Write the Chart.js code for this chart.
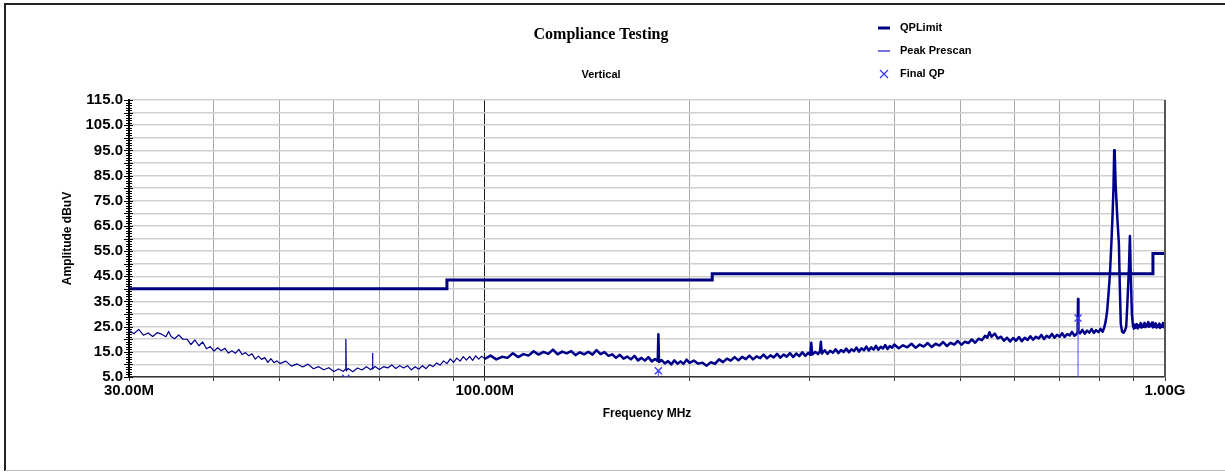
<!DOCTYPE html>
<html>
<head>
<meta charset="utf-8">
<title>Compliance Testing</title>
<script src="https://cdn.jsdelivr.net/npm/chart.js@4.4.0/dist/chart.umd.min.js"></script>
<style>
  html, body { margin: 0; padding: 0; background: #fff; }
  canvas { display: block; }
</style>
</head>
<body>
<canvas id="emcChart" width="1225" height="472"></canvas>
<script>
// all frequencies in MHz, amplitudes in dBuV
const qpLimit = [[30, 40.0], [88, 43.5], [216, 46.0], [960, 54.0], [1000, 54.0]];

// prescan trace below 100 MHz (thin part)
const prescanLow = [
    [30, 23.6], [30.5, 22.2], [31, 23.9], [31.5, 21.6], [32, 22.5], [32.5, 21.1], [33, 22.6], [33.5, 22.0],
    [34, 21.0], [34.3, 23.1], [34.6, 21.1], [35, 20.2], [35.5, 21.7], [36, 20.0], [36.5, 20.0], [37, 17.9],
    [37.5, 19.7], [38, 17.4], [38.5, 18.9], [39, 16.2], [39.5, 17.1], [40, 15.3], [40.5, 16.6], [41, 15.4],
    [41.5, 16.4], [42, 14.5], [42.5, 15.4], [43, 14.4], [43.5, 16.0], [44, 13.9], [44.5, 14.7], [45, 13.4],
    [45.5, 14.2], [46, 12.1], [46.5, 13.3], [47, 12.0], [47.5, 12.7], [48, 10.8], [48.5, 12.3], [49, 10.7],
    [49.5, 11.4], [50, 10.3], [51, 11.3], [52, 9.3], [53, 10.2], [54, 9.0], [55, 10.1], [56, 8.3],
    [57, 9.1], [58, 7.9], [59, 8.7], [60, 7.2], [61, 8.2], [62, 7.2], [62.4, 8.1], [62.5, 20.0],
    [62.6, 7.4], [63, 8.4], [64, 7.1], [65, 8.6], [66, 7.8], [67, 9.1], [68, 7.9], [68.3, 8.5],
    [68.4, 14.4], [68.5, 8.2], [69, 9.2], [70, 8.0], [71, 9.1], [72, 8.6], [73, 9.8], [74, 8.4],
    [75, 9.5], [76, 8.6], [77, 9.5], [78, 7.8], [79, 9.1], [80, 8.1], [81, 9.5], [82, 8.3],
    [83, 9.9], [84, 9.1], [85, 10.6], [86, 9.7], [87, 11.4], [88, 10.3], [89, 12.2], [90, 10.8],
    [91, 12.5], [92, 11.3], [93, 13.1], [94, 11.7], [95, 13.2], [96, 11.6], [97, 13.4], [98, 12.1],
    [99, 13.3], [100, 12.2]
];

// prescan trace from 100 MHz up (dense band)
const prescanHigh = [
    [100, 12.2], [102, 13.5], [104, 12.0], [106, 13.0], [108, 12.6], [110, 14.4], [112, 12.9], [114, 14.1],
    [116, 13.5], [118, 15.2], [120, 13.9], [122, 15.0], [124, 14.2], [126, 15.9], [128, 14.0], [130, 15.1],
    [132, 14.4], [134, 15.3], [136, 13.7], [138, 14.8], [140, 14.0], [142, 15.0], [144, 13.9], [146, 15.7],
    [148, 14.1], [150, 14.9], [152, 13.4], [154, 14.0], [156, 12.6], [158, 13.8], [160, 12.3], [162, 13.1],
    [164, 12.0], [166, 13.4], [168, 11.6], [170, 12.6], [172, 11.5], [174, 12.9], [176, 11.2], [178, 12.1],
    [179.6, 11.4], [180, 22.0], [180.4, 11.0], [182, 11.7], [184, 10.4], [186, 11.3], [188, 10.0], [190, 11.6],
    [192, 10.3], [194, 11.2], [196, 10.2], [198, 11.9], [200, 10.6], [203, 11.5], [206, 10.3], [209, 10.7],
    [212, 9.5], [215, 10.9], [218, 10.2], [221, 12.0], [224, 10.9], [227, 12.3], [230, 11.5], [233, 12.9],
    [236, 11.6], [239, 13.0], [242, 12.1], [245, 13.5], [248, 12.0], [251, 13.2], [254, 12.5], [257, 13.9],
    [260, 12.4], [263, 13.6], [266, 12.8], [269, 14.2], [272, 12.7], [275, 13.9], [278, 13.1], [281, 14.5],
    [284, 12.9], [287, 14.3], [290, 13.3], [293, 14.8], [296, 13.4], [299, 14.6], [301, 13.8], [302, 18.6],
    [303, 13.9], [306, 15.0], [309, 14.1], [311, 15.2], [312, 19.0], [313, 14.3], [316, 15.6], [319, 14.2],
    [322, 15.4], [325, 14.6], [328, 16.0], [331, 14.5], [334, 15.7], [337, 14.9], [340, 16.3], [343, 14.8],
    [346, 16.0], [349, 15.3], [352, 16.7], [355, 15.1], [358, 16.4], [361, 15.6], [364, 17.1], [367, 15.5],
    [370, 16.8], [373, 15.9], [376, 17.4], [379, 15.8], [382, 17.0], [385, 16.3], [388, 17.7], [391, 16.1],
    [394, 17.3], [397, 16.6], [400, 17.9], [406, 16.4], [412, 17.6], [418, 16.8], [424, 18.2], [430, 16.6],
    [436, 17.9], [442, 17.1], [448, 18.5], [454, 16.9], [460, 18.2], [466, 17.5], [472, 18.9], [478, 17.3],
    [484, 18.6], [490, 17.9], [496, 19.3], [502, 17.8], [508, 19.0], [514, 18.5], [520, 19.9], [526, 18.6],
    [532, 20.2], [538, 19.6], [544, 21.4], [548, 20.6], [552, 22.8], [556, 21.0], [562, 22.2], [568, 20.3],
    [574, 21.0], [580, 19.4], [586, 20.6], [592, 19.1], [598, 20.5], [604, 19.4], [610, 20.9], [616, 19.2],
    [622, 20.6], [628, 19.7], [634, 21.2], [640, 19.8], [646, 21.0], [652, 20.3], [658, 21.7], [664, 20.1],
    [670, 21.4], [676, 20.7], [682, 22.1], [688, 20.6], [694, 21.8], [700, 21.0], [706, 22.4], [712, 20.9],
    [718, 22.0], [724, 21.5], [730, 22.9], [736, 21.4], [742, 22.2], [744, 23.0], [745, 36.0], [746, 23.0],
    [750, 22.3], [756, 23.7], [762, 22.2], [768, 23.4], [774, 22.6], [780, 24.0], [786, 22.5], [792, 23.6],
    [798, 22.8], [804, 24.1], [810, 23.0], [814, 24.6], [818, 27.0], [822, 31.0], [826, 38.0], [830, 46.0],
    [834, 58.0], [837, 68.0], [840, 80.0], [842, 95.0], [843.5, 94.0], [846, 82.0], [851, 68.0], [855.5, 58.0],
    [858, 42.0], [861, 26.0], [865, 23.0], [869, 22.6], [873, 23.4], [877, 25.0], [880, 33.0], [885, 48.0],
    [888, 61.0], [891, 44.0], [894, 30.0], [897, 25.6], [900, 24.2], [903, 25.8], [906, 24.6], [909, 26.0],
    [912, 24.3], [915, 25.5], [918, 24.9], [921, 26.4], [924, 24.6], [927, 25.7], [930, 25.0], [933, 26.5],
    [936, 24.8], [939, 25.9], [942, 25.2], [945, 26.8], [948, 24.9], [951, 26.0], [954, 25.3], [957, 26.6],
    [960, 24.7], [963, 25.8], [966, 25.0], [969, 26.3], [972, 24.6], [975, 25.5], [978, 24.9], [981, 26.2],
    [984, 24.5], [987, 25.6], [990, 25.0], [993, 26.4], [996, 24.8], [1000, 25.9]
];

const finalQp = [[62.5, 4.5], [180, 7.5], [745, 28.4]];

const freqTicks = [30, 40, 50, 60, 70, 80, 90, 100, 200, 300, 400, 500, 600, 700, 800, 900, 1000];
const labeledFreqs = [30, 100, 1000];
const labeledFreqText = ['30.00M', '100.00M', '1.00G'];
const ampMin = 5;
const ampMax = 115;
const legendNames = ['QPLimit', 'Peak Prescan', 'Final QP'];

const limitColor = '#000080';
const traceColor = '#00008b';
const qpColor = '#3535ff';
const sans = '"Liberation Sans", Arial, sans-serif';

function toXY(arr) {
    return arr.map(p => ({ x: p[0], y: p[1] }));
}

// titles, legend, ruler ticks and the outer frame
const decorations = {
    id: 'decorations',
    afterDraw(chart) {
        const ctx = chart.ctx;
        const area = chart.chartArea;
        const yScale = chart.scales.y;
        ctx.save();

        // right edge of plot
        ctx.strokeStyle = '#555';
        ctx.lineWidth = 2;
        ctx.beginPath();
        ctx.moveTo(area.right, area.top);
        ctx.lineTo(area.right, area.bottom);
        ctx.stroke();

        // ruler ticks on the amplitude axis
        ctx.strokeStyle = '#000';
        ctx.lineWidth = 1;
        for (let v = ampMin; v <= ampMax; v++) {
            const py = Math.round(yScale.getPixelForValue(v)) + 0.5;
            const major = (v - ampMin) % 5 === 0;
            ctx.beginPath();
            ctx.moveTo(area.left - (major ? 5 : 3), py);
            ctx.lineTo(area.left + (major ? 4 : 3), py);
            ctx.stroke();
        }

        // outer frame
        ctx.strokeStyle = '#222';
        ctx.lineWidth = 2;
        ctx.beginPath();
        ctx.moveTo(5, 471);
        ctx.lineTo(5, 4);
        ctx.lineTo(1225, 4);
        ctx.stroke();
        ctx.strokeStyle = '#bbb';
        ctx.lineWidth = 1;
        ctx.beginPath();
        ctx.moveTo(5, 470.5);
        ctx.lineTo(1225, 470.5);
        ctx.stroke();

        // title and subtitle
        ctx.fillStyle = '#000';
        ctx.textAlign = 'center';
        ctx.textBaseline = 'middle';
        ctx.font = 'bold 16px "Liberation Serif", "Times New Roman", serif';
        ctx.fillText('Compliance Testing', 601, 35);
        ctx.font = 'bold 11px ' + sans;
        ctx.fillText('Vertical', 601, 75);

        // legend
        const rows = [28, 51, 74];
        ctx.strokeStyle = limitColor;
        ctx.lineWidth = 3;
        ctx.beginPath();
        ctx.moveTo(878, rows[0]);
        ctx.lineTo(890, rows[0]);
        ctx.stroke();
        ctx.strokeStyle = '#4646d2';
        ctx.lineWidth = 1.5;
        ctx.beginPath();
        ctx.moveTo(878, rows[1]);
        ctx.lineTo(890, rows[1]);
        ctx.stroke();
        ctx.strokeStyle = qpColor;
        ctx.lineWidth = 1.2;
        ctx.beginPath();
        ctx.moveTo(880, rows[2] - 4);
        ctx.lineTo(888, rows[2] + 4);
        ctx.moveTo(888, rows[2] - 4);
        ctx.lineTo(880, rows[2] + 4);
        ctx.stroke();

        ctx.textAlign = 'left';
        ctx.font = 'bold 11px ' + sans;
        legendNames.forEach((name, i) => ctx.fillText(name, 900, rows[i]));

        ctx.restore();
    }
};

const dropLines = finalQp.map(p => ({
    data: [{ x: p[0], y: ampMin }, { x: p[0], y: p[1] }],
    borderColor: '#5050ff',
    borderWidth: 1,
    pointRadius: 0
}));

new Chart(document.getElementById('emcChart').getContext('2d'), {
    type: 'line',
    data: {
        datasets: [
            {
                label: 'Final QP',
                data: toXY(finalQp),
                showLine: false,
                pointStyle: 'crossRot',
                pointRadius: 5,
                borderColor: qpColor,
                borderWidth: 1.3,
                clip: 0
            },
            ...dropLines,
            {
                label: 'Peak Prescan',
                data: toXY(prescanHigh),
                borderColor: traceColor,
                borderWidth: 2.5,
                borderJoinStyle: 'round',
                pointRadius: 0
            },
            {
                label: 'Peak Prescan',
                data: toXY(prescanLow),
                borderColor: traceColor,
                borderWidth: 1.2,
                borderJoinStyle: 'round',
                pointRadius: 0
            },
            {
                label: 'QPLimit',
                data: toXY(qpLimit),
                stepped: 'before',
                borderColor: limitColor,
                borderWidth: 3,
                pointRadius: 0
            }
        ]
    },
    options: {
        responsive: false,
        devicePixelRatio: 1,
        animation: false,
        layout: { padding: { top: 100, right: 60, bottom: 0, left: 0 } },
        plugins: {
            legend: { display: false },
            tooltip: { enabled: false }
        },
        scales: {
            x: {
                type: 'logarithmic',
                min: 30,
                max: 1000,
                afterBuildTicks: function(scale) {
                    scale.ticks = freqTicks.map(v => ({ value: v }));
                },
                afterFit: function(scale) {
                    scale.height = 95;
                },
                ticks: {
                    autoSkip: false,
                    maxRotation: 0,
                    padding: 1,
                    color: '#000',
                    font: { family: sans, size: 15, weight: 'bold' },
                    callback: function(value) {
                        const i = labeledFreqs.indexOf(value);
                        return i < 0 ? '' : labeledFreqText[i];
                    }
                },
                grid: {
                    color: ctx => (ctx.tick && ctx.tick.value === 100 ? '#1a1a1a' : '#a8a8a8'),
                    lineWidth: 1,
                    drawTicks: true,
                    tickLength: 4,
                    tickColor: '#333'
                },
                border: { color: '#333', width: 1.5 },
                title: {
                    display: true,
                    text: 'Frequency MHz',
                    color: '#000',
                    font: { family: sans, size: 12, weight: 'bold' },
                    padding: { top: 0, bottom: 51 }
                }
            },
            y: {
                min: ampMin,
                max: ampMax,
                afterFit: function(scale) {
                    scale.width = 129;
                },
                ticks: {
                    stepSize: 5,
                    autoSkip: false,
                    padding: 6,
                    color: '#000',
                    font: { family: sans, size: 15, weight: 'bold' },
                    callback: function(value) {
                        return (value - ampMin) % 10 === 0 ? value.toFixed(1) : '';
                    }
                },
                grid: { color: '#cfcfcf', lineWidth: 1.5, drawTicks: false },
                border: { color: '#000', width: 2 },
                title: {
                    display: true,
                    text: 'Amplitude dBuV',
                    color: '#000',
                    font: { family: sans, size: 12, weight: 'bold' },
                    padding: { top: 60, bottom: 0 }
                }
            }
        }
    },
    plugins: [decorations]
});
</script>
</body>
</html>
